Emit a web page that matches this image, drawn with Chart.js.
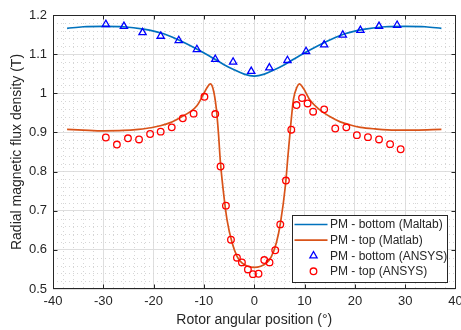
<!DOCTYPE html>
<html>
<head>
<meta charset="utf-8">
<script src="https://cdn.jsdelivr.net/npm/chart.js@4.4.1/dist/chart.umd.min.js"></script>
<style>
  body { margin: 0; background: #fff; }
</style>
</head>
<body>
<canvas id="myChart" width="461" height="330"></canvas>
<script>
  // PM - bottom, Matlab curve
  const bottomLineX = [-37.2, -34, -30, -26, -22, -18, -15, -12, -9, -6, -4, -2, 0, 2, 4, 6, 9, 12, 15, 18, 22, 26, 30, 34, 37.2];
  const bottomLineY = [1.166, 1.170, 1.171, 1.170, 1.164, 1.152, 1.136, 1.117, 1.096, 1.073, 1.060, 1.049, 1.044, 1.049, 1.060, 1.073, 1.096, 1.117, 1.136, 1.152, 1.164, 1.170, 1.171, 1.170, 1.166];

  // PM - top, Matlab curve
  const topLineX = [-37.2, -34, -30, -26, -23, -20.5, -18.7, -16.7, -14.7, -12.7, -11.4, -10.4, -9.4, -8.75, -8.2, -7.55, -7.1, -6.75, -6.1, -5.4, -4.4, -3.4, -2.4, -1.3, 0,
                    1.3, 2.4, 3.4, 4.4, 5.2, 6.2, 6.7, 7.2, 7.8, 8.5, 8.95, 9.8, 11.1, 13.1, 15.1, 17.1, 19.1, 21.1, 24, 28, 32, 37.2];
  const topLineY = [0.908, 0.906, 0.904, 0.905, 0.908, 0.912, 0.917, 0.925, 0.938, 0.953, 0.968, 0.990, 1.014, 1.024, 1.012, 0.962, 0.895, 0.828, 0.745, 0.676, 0.618, 0.583, 0.566, 0.558, 0.555,
                    0.558, 0.566, 0.583, 0.618, 0.668, 0.765, 0.840, 0.912, 0.985, 1.016, 1.024, 1.012, 0.982, 0.957, 0.940, 0.927, 0.919, 0.913, 0.909, 0.906, 0.906, 0.908];

  // PM - bottom, ANSYS points
  const bottomAnsysX = [-29.5, -25.9, -22.2, -18.6, -15.0, -11.4, -7.75, -4.2, -0.6, 3.0, 6.6, 10.3, 13.9, 17.6, 21.1, 24.8, 28.4];
  const bottomAnsysY = [1.176, 1.171, 1.155, 1.146, 1.135, 1.112, 1.087, 1.080, 1.056, 1.065, 1.084, 1.107, 1.124, 1.149, 1.161, 1.171, 1.174];

  // PM - top, ANSYS points
  const topAnsysX = [-29.5, -27.3, -25.1, -22.9, -20.7, -18.6, -16.4, -14.2, -12.05, -9.9, -7.75, -6.7, -5.63, -4.63, -3.44, -2.45, -1.26, -0.26, 0.85,
                     1.99, 3.04, 4.17, 5.17, 6.3, 7.36, 8.4, 9.5, 10.6, 11.7, 13.9, 16.1, 18.3, 20.4, 22.6, 24.8, 27.0, 29.1];
  const topAnsysY = [0.887, 0.869, 0.885, 0.882, 0.896, 0.902, 0.913, 0.936, 0.948, 0.991, 0.947, 0.813, 0.713, 0.626, 0.580, 0.568, 0.550, 0.538, 0.539,
                     0.574, 0.568, 0.599, 0.665, 0.777, 0.907, 0.970, 0.988, 0.974, 0.953, 0.959, 0.910, 0.913, 0.893, 0.888, 0.882, 0.870, 0.857];

  const seriesLabels = ["PM - bottom (Maltab)", "PM - top (Matlab)", "PM - bottom (ANSYS)", "PM - top (ANSYS)"];

  const xMin = -40, xMax = 40, xStep = 10, xMinorStep = 2;
  const yMin = 0.5, yMax = 1.2, yStep = 0.1, yMinorStep = 0.02;

  const FONT = "'Liberation Sans', Arial, sans-serif";
  const INK = "#262626";

  const toPoints = (xs, ys) => xs.map((x, i) => ({ x: x, y: ys[i] }));

  // dotted minor grid, drawn under the data
  const minorGrid = {
    id: "minorGrid",
    beforeDatasetsDraw(chart) {
      const { ctx, chartArea: a, scales: { x, y } } = chart;
      ctx.save();
      ctx.strokeStyle = "#d6d6d6";
      ctx.lineWidth = 1;
      ctx.setLineDash([1, 3]);
      const nx = Math.round((xMax - xMin) / xMinorStep);
      for (let i = 1; i < nx; i++) {
        const v = xMin + i * xMinorStep;
        if (Math.abs(v % xStep) < 1e-9) continue;
        const px = Math.round(x.getPixelForValue(v)) + 0.5;
        ctx.beginPath();
        ctx.moveTo(px, a.top);
        ctx.lineTo(px, a.bottom);
        ctx.stroke();
      }
      const ny = Math.round((yMax - yMin) / yMinorStep);
      for (let i = 1; i < ny; i++) {
        if (i % Math.round(yStep / yMinorStep) === 0) continue;
        const py = Math.round(y.getPixelForValue(yMin + i * yMinorStep)) + 0.5;
        ctx.beginPath();
        ctx.moveTo(a.left, py);
        ctx.lineTo(a.right, py);
        ctx.stroke();
      }
      ctx.restore();
    }
  };

  // axes box, inward ticks and the legend
  const boxAndLegend = {
    id: "boxAndLegend",
    afterDraw(chart) {
      const { ctx, chartArea: a, scales: { x, y } } = chart;
      ctx.save();
      ctx.strokeStyle = INK;
      ctx.lineWidth = 1;
      ctx.setLineDash([]);
      const L = Math.round(a.left) + 0.5, R = Math.round(a.right) - 0.5;
      const T = Math.round(a.top) + 0.5, B = Math.round(a.bottom) - 0.5;
      ctx.strokeRect(L, T, R - L, B - T);
      ctx.beginPath();
      for (let v = xMin + xStep; v < xMax; v += xStep) {
        const px = Math.round(x.getPixelForValue(v)) + 0.5;
        ctx.moveTo(px, B); ctx.lineTo(px, B - 4);
        ctx.moveTo(px, T); ctx.lineTo(px, T + 4);
      }
      for (let k = 1; k < Math.round((yMax - yMin) / yStep); k++) {
        const py = Math.round(y.getPixelForValue(yMin + k * yStep)) + 0.5;
        ctx.moveTo(L, py); ctx.lineTo(L + 4, py);
        ctx.moveTo(R, py); ctx.lineTo(R - 4, py);
      }
      ctx.stroke();

      // legend
      const lw = 155, lh = 67;
      const lx = Math.round(a.right - 9 - lw) + 0.5;
      const ly = Math.round(a.bottom - 7 - lh) + 0.5;
      ctx.fillStyle = "#fff";
      ctx.fillRect(lx, ly, lw, lh);
      ctx.strokeStyle = INK;
      ctx.strokeRect(lx, ly, lw, lh);
      ctx.font = "12px " + FONT;
      ctx.textBaseline = "middle";
      ctx.textAlign = "left";
      chart.data.datasets.forEach((ds, i) => {
        const cy = ly + 9 + i * 15.6;
        if (ds.pointRadius === 0) {
          ctx.strokeStyle = ds.borderColor;
          ctx.lineWidth = ds.borderWidth;
          ctx.beginPath();
          ctx.moveTo(lx + 2, cy);
          ctx.lineTo(lx + 35, cy);
          ctx.stroke();
        } else {
          ctx.strokeStyle = ds.borderColor;
          ctx.fillStyle = "rgba(0,0,0,0)";
          ctx.lineWidth = ds.borderWidth;
          Chart.helpers.drawPoint(ctx, {
            pointStyle: ds.pointStyle,
            radius: ds.pointRadius,
            borderWidth: ds.borderWidth,
            rotation: 0
          }, lx + 21, cy);
        }
        ctx.fillStyle = INK;
        ctx.fillText(ds.label, lx + 37.5, cy + 0.5);
      });
      ctx.restore();
    }
  };

  const data = {
    datasets: [
      {
        label: seriesLabels[0],
        data: toPoints(bottomLineX, bottomLineY),
        showLine: true,
        borderColor: "#0072BD",
        borderWidth: 1.7,
        pointRadius: 0,
        cubicInterpolationMode: "monotone",
        order: 4,
      },
      {
        label: seriesLabels[1],
        data: toPoints(topLineX, topLineY),
        showLine: true,
        borderColor: "#D95319",
        borderWidth: 1.7,
        pointRadius: 0,
        cubicInterpolationMode: "monotone",
        order: 3,
      },
      {
        label: seriesLabels[2],
        data: toPoints(bottomAnsysX, bottomAnsysY),
        showLine: false,
        pointStyle: "triangle",
        pointRadius: 4.2,
        borderColor: "#0000FF",
        backgroundColor: "rgba(0,0,0,0)",
        borderWidth: 1.3,
        order: 2,
      },
      {
        label: seriesLabels[3],
        data: toPoints(topAnsysX, topAnsysY),
        showLine: false,
        pointStyle: "circle",
        pointRadius: 3.3,
        borderColor: "#FF0000",
        backgroundColor: "rgba(0,0,0,0)",
        borderWidth: 1.3,
        order: 1,
      },
    ],
  };

  const config = {
    type: "scatter",
    data: data,
    options: {
      responsive: false,
      animation: false,
      layout: { padding: { left: 0, right: 5, top: 15, bottom: 0 } },
      plugins: {
        legend: { display: false },
        tooltip: { enabled: false },
      },
      scales: {
        x: {
          type: "linear",
          min: xMin,
          max: xMax,
          border: { display: false },
          grid: { color: "#dedede", drawTicks: false },
          ticks: {
            stepSize: xStep,
            padding: 5,
            color: INK,
            font: { family: FONT, size: 13 },
            maxRotation: 0,
          },
          title: {
            display: true,
            text: "Rotor angular position (°)",
            color: INK,
            font: { family: FONT, size: 14 },
            padding: { top: 0, bottom: 1.5 },
          },
          afterFit(scale) {
            scale.height = 41;
            scale.paddingLeft = 0;
            scale.paddingRight = 0;
          },
        },
        y: {
          type: "linear",
          min: yMin,
          max: yMax,
          border: { display: false },
          grid: { color: "#dedede", drawTicks: false },
          ticks: {
            stepSize: yStep,
            padding: 6,
            color: INK,
            font: { family: FONT, size: 13 },
            callback: (v) => String(Number(v.toFixed(1))),
          },
          title: {
            display: true,
            text: "Radial magnetic flux density (T)",
            color: INK,
            font: { family: FONT, size: 14 },
            padding: { top: 8.5, bottom: 0 },
          },
          afterFit(scale) {
            scale.width = 53;
          },
        },
      },
    },
    plugins: [minorGrid, boxAndLegend],
  };

  const myChart = new Chart(document.getElementById("myChart"), config);
</script>
</body>
</html>
